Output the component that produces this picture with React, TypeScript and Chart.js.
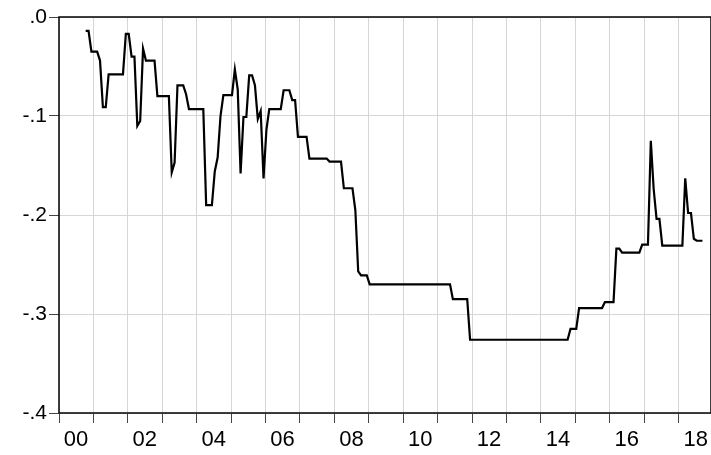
import React, { useEffect, useRef } from "react";
import { Chart, registerables } from "chart.js";

Chart.register(...registerables);

// Observation months (YYYY-MM) at which the series changes slope
const dates: string[] = [
  "2000-10", "2000-11", "2000-12", "2001-02", "2001-03", "2001-04", "2001-05", "2001-06",
  "2001-11", "2001-12", "2002-01", "2002-02", "2002-03", "2002-04", "2002-05", "2002-06",
  "2002-07", "2002-10", "2002-11", "2003-03", "2003-04", "2003-05", "2003-06", "2003-08",
  "2003-09", "2003-10", "2004-03", "2004-04", "2004-06", "2004-07", "2004-08", "2004-09",
  "2004-10", "2005-01", "2005-02", "2005-03", "2005-04", "2005-05", "2005-06", "2005-07",
  "2005-08", "2005-09", "2005-10", "2005-11", "2005-12", "2006-01", "2006-02", "2006-06",
  "2006-07", "2006-09", "2006-10", "2006-11", "2006-12", "2007-03", "2007-04", "2007-10",
  "2007-11", "2008-03", "2008-04", "2008-07", "2008-08", "2008-09", "2008-10", "2008-12",
  "2009-01", "2011-05", "2011-06", "2011-11", "2011-12", "2014-10", "2014-11", "2015-01",
  "2015-02", "2015-10", "2015-11", "2016-02", "2016-03", "2016-04", "2016-05", "2016-11",
  "2016-12", "2017-02", "2017-03", "2017-04", "2017-05", "2017-06", "2017-07", "2018-02",
  "2018-03", "2018-04", "2018-05", "2018-06", "2018-07", "2018-09",
];

const values: number[] = [
  -0.014, -0.014, -0.035, -0.035, -0.044, -0.091, -0.091, -0.058,
  -0.058, -0.017, -0.017, -0.040, -0.040, -0.110, -0.105, -0.032,
  -0.044, -0.044, -0.080, -0.080, -0.157, -0.147, -0.069, -0.069,
  -0.078, -0.093, -0.093, -0.190, -0.190, -0.156, -0.142, -0.100,
  -0.079, -0.079, -0.053, -0.073, -0.158, -0.101, -0.101, -0.059,
  -0.059, -0.069, -0.103, -0.095, -0.163, -0.114, -0.093, -0.093,
  -0.074, -0.074, -0.084, -0.084, -0.121, -0.121, -0.143, -0.143,
  -0.146, -0.146, -0.173, -0.173, -0.195, -0.257, -0.261, -0.261,
  -0.270, -0.270, -0.285, -0.285, -0.326, -0.326, -0.315, -0.315,
  -0.294, -0.294, -0.288, -0.288, -0.234, -0.234, -0.238, -0.238,
  -0.230, -0.230, -0.125, -0.174, -0.204, -0.204, -0.231, -0.231,
  -0.163, -0.198, -0.198, -0.224, -0.226, -0.226,
];

const xMin = 2000;
const xMax = 2018.94;
const yMin = -0.4;
const yMax = 0;
const yStep = 0.1;

function toYear(d: string): number {
  const [y, m] = d.split("-").map(Number);
  return y + (m - 1 + 0.3) / 12;
}

function fmtY(v: number): string {
  const r = Math.round(v * 10) / 10;
  return r.toFixed(1).replace("0.", ".");
}

const framePlugin = {
  id: "frame",
  afterDraw(chart: any) {
    const { ctx, chartArea } = chart;
    ctx.save();
    ctx.strokeStyle = "#000";
    ctx.lineWidth = 1.5;
    ctx.strokeRect(chartArea.left, chartArea.top, chartArea.right - chartArea.left, chartArea.bottom - chartArea.top);
    ctx.restore();
  },
};

export default function App() {
  const ref = useRef<HTMLCanvasElement | null>(null);

  useEffect(() => {
    if (!ref.current) return;
    const family = "'Liberation Sans', Arial, sans-serif";
    const chart = new Chart(ref.current, {
      type: "line",
      data: {
        datasets: [
          {
            data: dates.map((d, i) => ({ x: toYear(d), y: values[i] })),
            borderColor: "#000",
            borderWidth: 2.2,
            pointRadius: 0,
            tension: 0,
            fill: false,
          },
        ],
      },
      options: {
        animation: false,
        responsive: false,
        devicePixelRatio: 1,
        layout: { padding: { top: 17, right: 0, left: 0, bottom: 0 } },
        plugins: { legend: { display: false }, tooltip: { enabled: false } },
        scales: {
          x: {
            type: "linear",
            min: xMin,
            max: xMax,
            border: { display: false },
            grid: { color: "#d6d6d6", lineWidth: 1, tickColor: "#444", tickLength: 10, drawTicks: true },
            ticks: {
              stepSize: 1,
              includeBounds: false,
              autoSkip: false,
              maxRotation: 0,
              labelOffset: 17,
              padding: 4,
              color: "#000",
              font: { family, size: 22 },
              callback: (v: any) => {
                const y = Math.round(Number(v));
                return y % 2 === 0 ? String(y % 100).padStart(2, "0") : "";
              },
            },
            afterFit: (s: any) => {
              s.height = 42;
            },
          },
          y: {
            min: yMin,
            max: yMax,
            border: { display: false },
            grid: { color: "#d6d6d6", lineWidth: 1, tickColor: "#444", tickLength: 10 },
            ticks: {
              stepSize: yStep,
              padding: 2,
              color: "#000",
              font: { family, size: 21 },
              callback: (v: any) => fmtY(Number(v)),
            },
            afterFit: (s: any) => {
              s.width = 59;
            },
          },
        },
      },
      plugins: [framePlugin],
    } as any);
    return () => chart.destroy();
  }, []);

  return (
    <div style={{ position: "fixed", left: 0, top: 0, width: 711, height: 455, background: "#fff" }}>
      <canvas ref={ref} width={711} height={455} style={{ display: "block" }} />
    </div>
  );
}
